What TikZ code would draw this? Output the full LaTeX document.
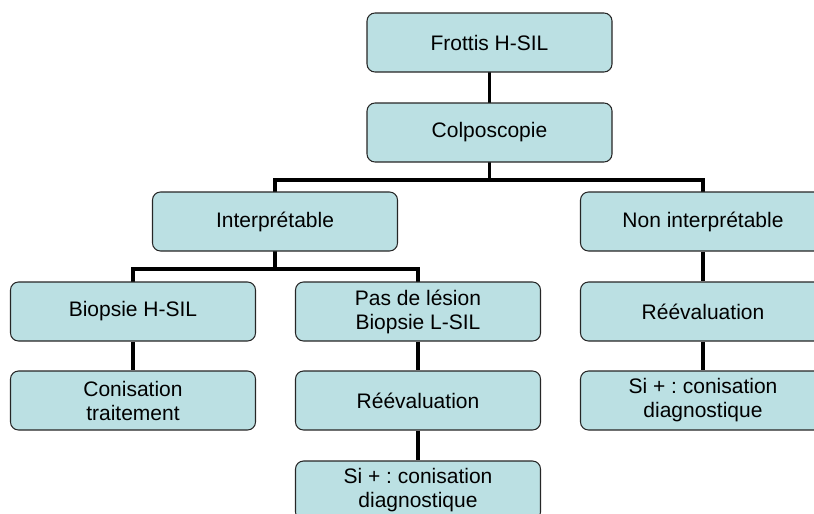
\documentclass[tikz,border=0pt]{standalone}
\usepackage{fontspec}
\setmainfont{Liberation Sans}
\usepackage{xcolor}
\frenchspacing

\definecolor{boxfill}{HTML}{BBE0E3}
\tikzset{
	step box/.style = {draw = black!85, line width = 0.8pt, fill = boxfill,
		rounded corners = 6pt, minimum width = 183.75pt, minimum height = 44.25pt,
		align = center, inner sep = 2pt,
		font = \fontsize{15.75}{18}\selectfont},
	link/.style = {line width = 2.3pt, black}
}

\begin{document}
\begin{tikzpicture}[x=0.75pt, y=-0.75pt]
				%\draw[help lines] (0,0) grid[step=50] (814,514);
				\useasboundingbox (0,0) rectangle (814,514);
				
				\coordinate (split1) at (489.5,180);
				\coordinate (split2) at (275,269);
				
				\draw[link] (489.5,42.5) -- (split1);
				\draw[link] (275,221.5) |- (split1) -| (703,221.5);
				\draw[link] (275,221.5) -- (split2);
				\draw[link] (133,311.5) |- (split2) -| (418,311.5);
				
				\node[step box] (frottis) at (489.5,42.5) {Frottis H-SIL};
				\node[step box] (colpo) at (489.5,132.5) {Colposcopie};
				\node[step box] (interp) at (275,221.5) {Interprétable};
				\node[step box] (noninterp) at (703,221.5) {Non interprétable};
				
				\node[step box] (biopsie) at (133,311.5) {Biopsie H-SIL};
				\node[step box] (conis) at (133,400.5) {Conisation\\traitement};
				
				\node[step box] (pasles) at (418,311.5) {Pas de lésion\\Biopsie L-SIL};
				\node[step box] (reevalA) at (418,400.5) {Réévaluation};
				\node[step box] (siplusA) at (418,490.5) {Si + : conisation\\diagnostique};
				
				\node[step box] (reevalB) at (703,311.5) {Réévaluation};
				\node[step box] (siplusB) at (703,400.5) {Si + : conisation\\diagnostique};
				
				\draw[link] (biopsie) -- (conis);
				\draw[link] (pasles) -- (reevalA);
				\draw[link] (reevalA) -- (siplusA);
				\draw[link] (noninterp) -- (reevalB);
				\draw[link] (reevalB) -- (siplusB);
				\end{tikzpicture}
\end{document}
